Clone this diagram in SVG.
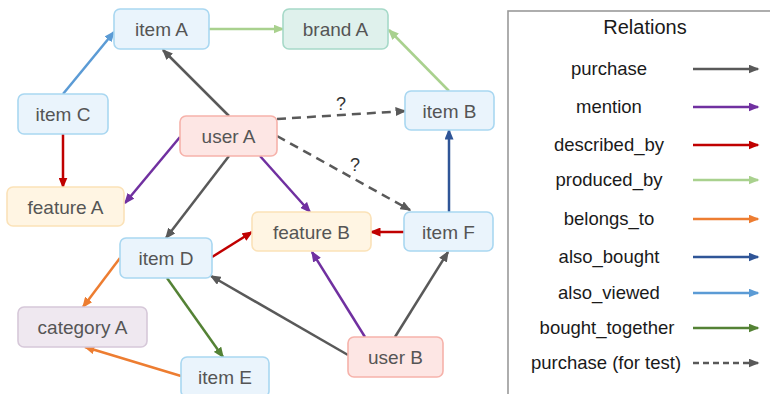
<svg xmlns="http://www.w3.org/2000/svg" width="770" height="394" viewBox="0 0 770 394">
<defs>
<style>
.n rect{stroke-width:1.6}
.n text{font-family:"Liberation Sans",Arial,sans-serif;font-size:19px;fill:#555;text-anchor:middle}
.item rect{fill:#eaf4fc;stroke:#a9d7f1}
.brand rect{fill:#dff1ec;stroke:#a6d9c8}
.user rect{fill:#fde6e4;stroke:#f6b2aa}
.feat rect{fill:#fff5e3;stroke:#fbe2b8}
.cat rect{fill:#efe8f0;stroke:#d6c8d9}
.e line{stroke-width:2.5;fill:none}
.lg text{font-family:"Liberation Sans",Arial,sans-serif;font-size:18.5px;fill:#1a1a1a;text-anchor:middle}
.q{font-family:"Liberation Sans",Arial,sans-serif;font-size:18px;fill:#333;text-anchor:middle}
</style>
<marker id="mGray" markerWidth="11" markerHeight="9" refX="9.5" refY="4.5" orient="auto" markerUnits="userSpaceOnUse"><path d="M0,0 L11,4.5 L0,9 z" fill="#595959"/></marker>
<marker id="mPurple" markerWidth="11" markerHeight="9" refX="9.5" refY="4.5" orient="auto" markerUnits="userSpaceOnUse"><path d="M0,0 L11,4.5 L0,9 z" fill="#7030a0"/></marker>
<marker id="mRed" markerWidth="11" markerHeight="9" refX="9.5" refY="4.5" orient="auto" markerUnits="userSpaceOnUse"><path d="M0,0 L11,4.5 L0,9 z" fill="#c00000"/></marker>
<marker id="mLGreen" markerWidth="11" markerHeight="9" refX="9.5" refY="4.5" orient="auto" markerUnits="userSpaceOnUse"><path d="M0,0 L11,4.5 L0,9 z" fill="#a9d18e"/></marker>
<marker id="mOrange" markerWidth="11" markerHeight="9" refX="9.5" refY="4.5" orient="auto" markerUnits="userSpaceOnUse"><path d="M0,0 L11,4.5 L0,9 z" fill="#ed7d31"/></marker>
<marker id="mDBlue" markerWidth="11" markerHeight="9" refX="9.5" refY="4.5" orient="auto" markerUnits="userSpaceOnUse"><path d="M0,0 L11,4.5 L0,9 z" fill="#2f5597"/></marker>
<marker id="mLBlue" markerWidth="11" markerHeight="9" refX="9.5" refY="4.5" orient="auto" markerUnits="userSpaceOnUse"><path d="M0,0 L11,4.5 L0,9 z" fill="#5b9bd5"/></marker>
<marker id="mGreen" markerWidth="11" markerHeight="9" refX="9.5" refY="4.5" orient="auto" markerUnits="userSpaceOnUse"><path d="M0,0 L11,4.5 L0,9 z" fill="#548235"/></marker>
</defs>
<rect width="770" height="394" fill="#fff"/>

<g id="connectors" class="e">
<line x1="63" y1="94" x2="114" y2="32" stroke="#5b9bd5" marker-end="url(#mLBlue)"/>
<line x1="209" y1="29" x2="283" y2="29" stroke="#a9d18e" marker-end="url(#mLGreen)"/>
<line x1="449" y1="91" x2="389" y2="30" stroke="#a9d18e" marker-end="url(#mLGreen)"/>
<line x1="229" y1="116" x2="163" y2="50" stroke="#595959" marker-end="url(#mGray)"/>
<line x1="277" y1="119" x2="405" y2="111" stroke="#595959" stroke-dasharray="9,6" marker-end="url(#mGray)"/>
<line x1="277" y1="136" x2="410" y2="210" stroke="#595959" stroke-dasharray="9,6" marker-end="url(#mGray)"/>
<line x1="63" y1="134" x2="63" y2="187" stroke="#c00000" marker-end="url(#mRed)"/>
<line x1="180" y1="137" x2="125" y2="203" stroke="#7030a0" marker-end="url(#mPurple)"/>
<line x1="229" y1="156" x2="166" y2="238" stroke="#595959" marker-end="url(#mGray)"/>
<line x1="260" y1="156" x2="310" y2="212" stroke="#7030a0" marker-end="url(#mPurple)"/>
<line x1="212" y1="257" x2="252" y2="232" stroke="#c00000" marker-end="url(#mRed)"/>
<line x1="404" y1="232" x2="371" y2="232" stroke="#c00000" marker-end="url(#mRed)"/>
<line x1="449" y1="212" x2="449" y2="130" stroke="#2f5597" marker-end="url(#mDBlue)"/>
<line x1="120" y1="258" x2="83" y2="307" stroke="#ed7d31" marker-end="url(#mOrange)"/>
<line x1="167" y1="278" x2="223" y2="357" stroke="#548235" marker-end="url(#mGreen)"/>
<line x1="181" y1="376" x2="85" y2="347" stroke="#ed7d31" marker-end="url(#mOrange)"/>
<line x1="348" y1="355" x2="211" y2="276" stroke="#595959" marker-end="url(#mGray)"/>
<line x1="365" y1="337" x2="312" y2="252" stroke="#7030a0" marker-end="url(#mPurple)"/>
<line x1="395" y1="337" x2="448" y2="252" stroke="#595959" marker-end="url(#mGray)"/>
<text class="q" x="341" y="110">?</text>
<text class="q" x="355" y="171">?</text>
</g>

<g id="itemA" class="n item"><rect x="114" y="9" width="95" height="40" rx="6"/><text x="161.5" y="36">item A</text></g>
<g id="brandA" class="n brand"><rect x="283" y="9" width="105" height="40" rx="6"/><text x="335.5" y="36">brand A</text></g>
<g id="itemC" class="n item"><rect x="18" y="94" width="90" height="40" rx="6"/><text x="63" y="121">item C</text></g>
<g id="userA" class="n user"><rect x="180" y="116" width="97" height="40" rx="6"/><text x="228.5" y="143">user A</text></g>
<g id="itemB" class="n item"><rect x="405" y="91" width="89" height="39" rx="6"/><text x="449.5" y="117.5">item B</text></g>
<g id="featureA" class="n feat"><rect x="7" y="187" width="117" height="39" rx="6"/><text x="65.5" y="213.5">feature A</text></g>
<g id="featureB" class="n feat"><rect x="252" y="212" width="119" height="39" rx="6"/><text x="311.5" y="238.5">feature B</text></g>
<g id="itemF" class="n item"><rect x="404" y="212" width="89" height="39" rx="6"/><text x="448.5" y="238.5">item F</text></g>
<g id="itemD" class="n item"><rect x="120" y="238" width="92" height="40" rx="6"/><text x="166" y="265">item D</text></g>
<g id="categoryA" class="n cat"><rect x="18" y="307" width="129" height="40" rx="6"/><text x="82.5" y="334">category A</text></g>
<g id="itemE" class="n item"><rect x="181" y="357" width="88" height="40" rx="6"/><text x="225" y="384">item E</text></g>
<g id="userB" class="n user"><rect x="348" y="337" width="95" height="40" rx="6"/><text x="395.5" y="364">user B</text></g>

<g id="legend" class="lg">
<rect x="508" y="11" width="270" height="400" fill="#fff" stroke="#9a9a9a" stroke-width="1.6"/>
<text x="645" y="34" style="font-size:20px">Relations</text>
<text x="609" y="75">purchase</text>
<line x1="693" y1="69" x2="758" y2="69" stroke="#595959" stroke-width="2.5" marker-end="url(#mGray)"/>
<text x="609" y="113">mention</text>
<line x1="693" y1="107" x2="758" y2="107" stroke="#7030a0" stroke-width="2.5" marker-end="url(#mPurple)"/>
<text x="609" y="151">described_by</text>
<line x1="693" y1="145" x2="758" y2="145" stroke="#c00000" stroke-width="2.5" marker-end="url(#mRed)"/>
<text x="609" y="186">produced_by</text>
<line x1="693" y1="180" x2="758" y2="180" stroke="#a9d18e" stroke-width="2.5" marker-end="url(#mLGreen)"/>
<text x="609" y="225">belongs_to</text>
<line x1="693" y1="219" x2="758" y2="219" stroke="#ed7d31" stroke-width="2.5" marker-end="url(#mOrange)"/>
<text x="609" y="263">also_bought</text>
<line x1="693" y1="257" x2="758" y2="257" stroke="#2f5597" stroke-width="2.5" marker-end="url(#mDBlue)"/>
<text x="609" y="299">also_viewed</text>
<line x1="693" y1="293" x2="758" y2="293" stroke="#5b9bd5" stroke-width="2.5" marker-end="url(#mLBlue)"/>
<text x="607" y="334">bought_together</text>
<line x1="693" y1="328" x2="758" y2="328" stroke="#548235" stroke-width="2.5" marker-end="url(#mGreen)"/>
<text x="606" y="369">purchase (for test)</text>
<line x1="693" y1="363" x2="758" y2="363" stroke="#595959" stroke-width="2.5" stroke-dasharray="6,4" marker-end="url(#mGray)"/>
</g>
</svg>
